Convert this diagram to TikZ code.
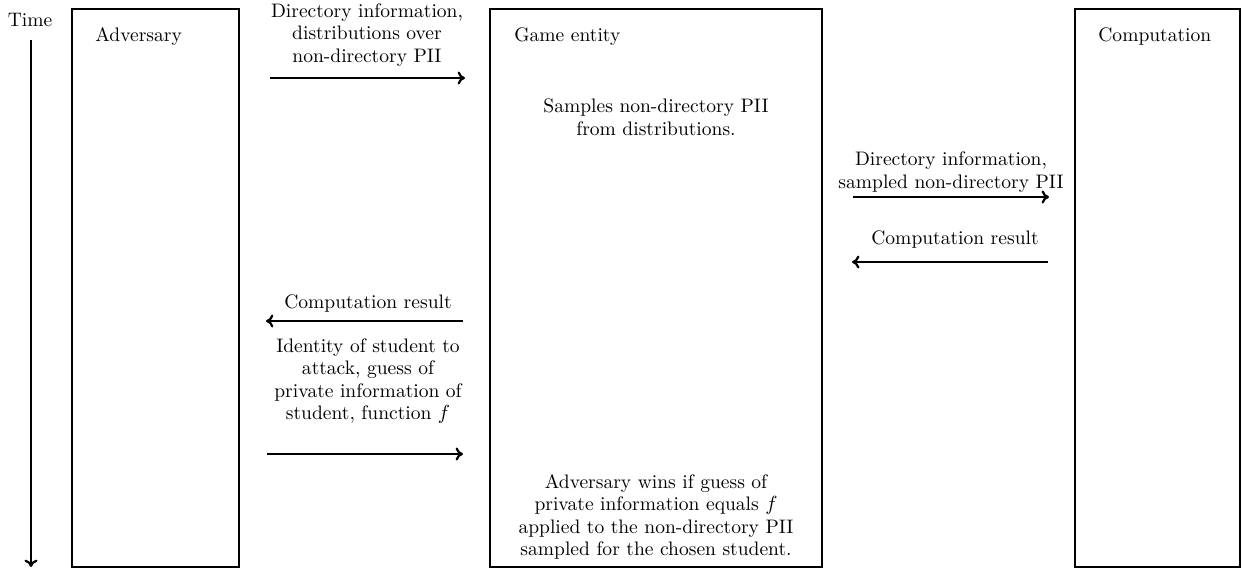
\documentclass[tikz,border=0pt]{standalone}
\usetikzlibrary{arrows.meta}
\begin{document}
\begin{tikzpicture}[x=0.5376pt,y=-0.5376pt,
  every node/.style={font=\fontsize{10.5}{12.1}\selectfont},
  box/.style={draw,line width=1.4pt},
  msg/.style={line width=1.2pt,-{To[length=4pt,width=7pt]}},
  lbl/.style={align=center,inner sep=0pt},
  ttl/.style={anchor=west,inner sep=0pt}]
\useasboundingbox (0,0) rectangle (1242,569);
% boxes
\draw[box] (72,9) rectangle (239,567);
\draw[box] (490,9) rectangle (822,567);
\draw[box] (1075,9) rectangle (1240,567);
\node[ttl] (adv) at (95,37) {Adversary};
\node[ttl] (game) at (514,37) {Game entity};
\node[ttl] (comp) at (1098,37) {Computation};
% time
\node[lbl] (time) at (30,20) {Time};
\coordinate (t1) at (31,40);
\coordinate (t2) at (31,567);
\draw[msg] (t1) -- (t2);
% arrow 1
\coordinate (a1s) at (270,78); \coordinate (a1e) at (465,78);
\draw[msg] (a1s) -- (a1e);
\node[lbl] (l1) at (367,35) {Directory information,\\distributions over\\non-directory PII};
% samples
\node[lbl] (samp) at (656,117) {Samples non-directory PII\\from distributions.};
% arrow 2
\coordinate (a2s) at (853,197); \coordinate (a2e) at (1049,197);
\draw[msg] (a2s) -- (a2e);
\node[lbl] (l2) at (951,172) {Directory information,\\sampled non-directory PII};
% arrow 3
\coordinate (a3s) at (1048,262); \coordinate (a3e) at (852,262);
\draw[msg] (a3s) -- (a3e);
\node[lbl] (l3) at (955,240) {Computation result};
% arrow 4
\coordinate (a4s) at (463,321); \coordinate (a4e) at (266,321);
\draw[msg] (a4s) -- (a4e);
\node[lbl] (l4) at (368,304) {Computation result};
% arrow 5
\coordinate (a5s) at (267,454); \coordinate (a5e) at (463,454);
\draw[msg] (a5s) -- (a5e);
\node[lbl] (l5) at (368,381) {Identity of student to\\attack, guess of\\private information of\\student, function $f$};
% wins
\node[lbl] (win) at (656,517) {Adversary wins if guess of\\private information equals $f$\\applied to the non-directory PII\\sampled for the chosen student.};
\end{tikzpicture}
\end{document}
